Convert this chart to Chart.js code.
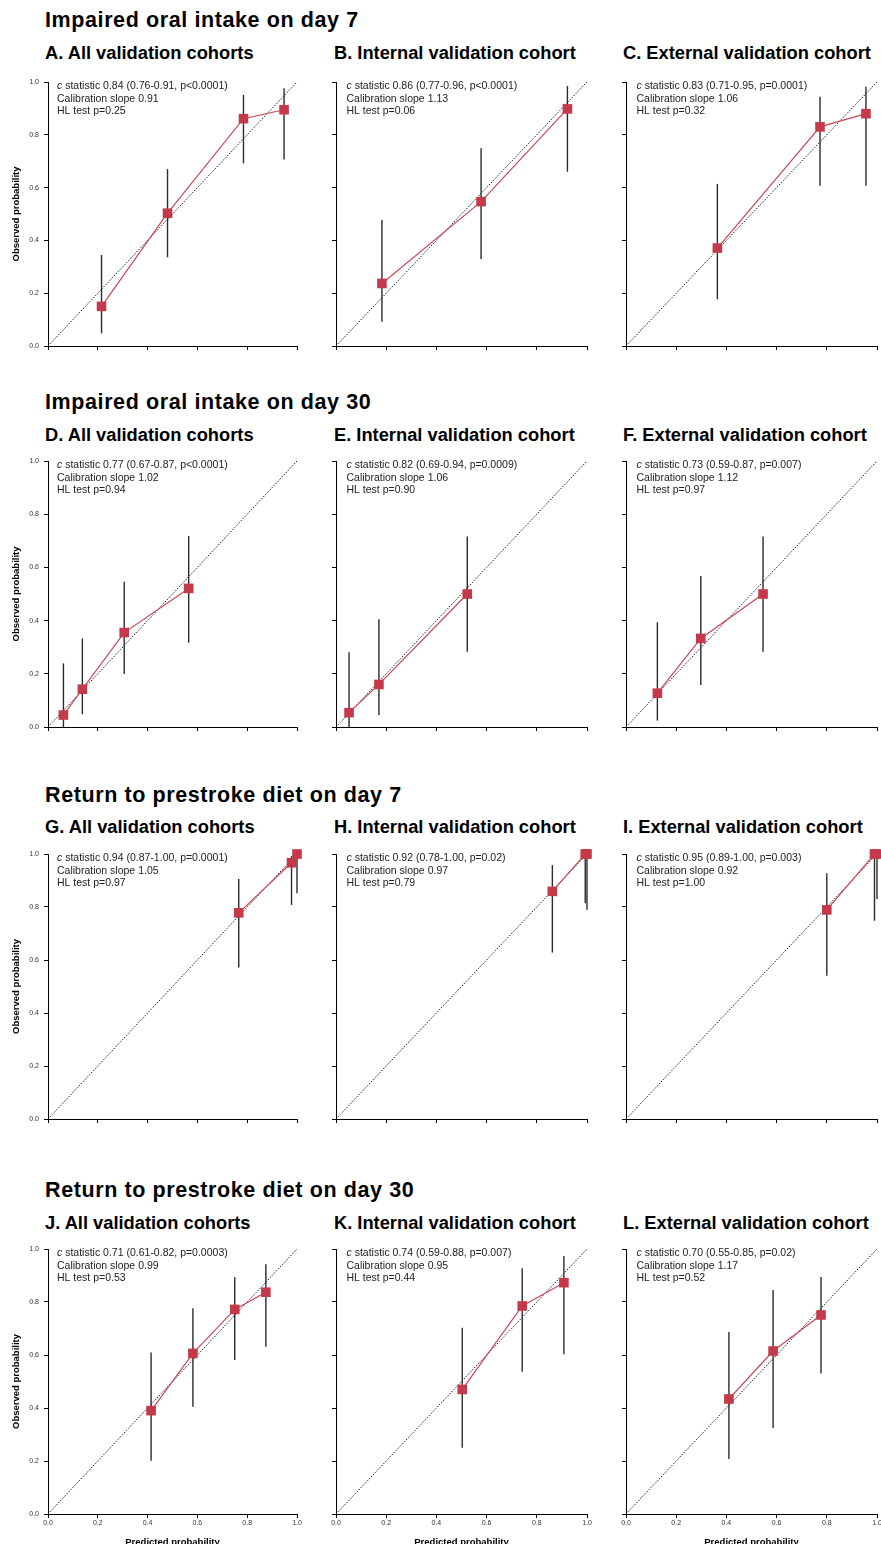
<!DOCTYPE html>
<html><head><meta charset="utf-8">
<script src="https://cdn.jsdelivr.net/npm/chart.js@4/dist/chart.umd.min.js"></script>
<style>
html,body{margin:0;padding:0;width:881px;height:1544px;overflow:hidden;background:#fff;}
.t{position:absolute;font-family:"Liberation Sans",Arial,sans-serif;font-weight:bold;color:#000;white-space:nowrap;line-height:1;}
.h1{font-size:21.5px;letter-spacing:0.6px;}
.h2{font-size:18.3px;letter-spacing:0px;}
canvas{position:absolute;}
</style></head><body>
<script>
// ---------- DATA ----------
const rowTitles = ["Impaired oral intake on day 7","Impaired oral intake on day 30","Return to prestroke diet on day 7","Return to prestroke diet on day 30"];
const panelTitles = ["A. All validation cohorts","B. Internal validation cohort","C. External validation cohort",
  "D. All validation cohorts","E. Internal validation cohort","F. External validation cohort",
  "G. All validation cohorts","H. Internal validation cohort","I. External validation cohort",
  "J. All validation cohorts","K. Internal validation cohort","L. External validation cohort"];
const tickValues = [0, 0.2, 0.4, 0.6, 0.8, 1.0];
const tickLabels = ["0.0","0.2","0.4","0.6","0.8","1.0"];
const diagX = [0, 1];
const diagY = [0, 1];
const xAxisTitle = "Predicted probability";
const yAxisTitle = "Observed probability";

// A
const predA = [0.215, 0.48, 0.785, 0.948];
const obsA  = [0.15, 0.503, 0.861, 0.895];
const loA   = [0.048, 0.336, 0.692, 0.706];
const hiA   = [0.345, 0.67, 0.951, 0.976];
const statsA = ["c statistic 0.84 (0.76-0.91, p<0.0001)","Calibration slope 0.91","HL test p=0.25"];
// B
const predB = [0.183, 0.578, 0.922];
const obsB  = [0.237, 0.547, 0.898];
const loB   = [0.092, 0.33, 0.66];
const hiB   = [0.477, 0.749, 0.985];
const statsB = ["c statistic 0.86 (0.77-0.96, p<0.0001)","Calibration slope 1.13","HL test p=0.06"];
// C
const predC = [0.364, 0.773, 0.956];
const obsC  = [0.371, 0.83, 0.88];
const loC   = [0.177, 0.607, 0.607];
const hiC   = [0.614, 0.944, 0.982];
const statsC = ["c statistic 0.83 (0.71-0.95, p=0.0001)","Calibration slope 1.06","HL test p=0.32"];
// D
const predD = [0.062, 0.138, 0.306, 0.565];
const obsD  = [0.045, 0.142, 0.355, 0.521];
const loD   = [0.0, 0.048, 0.199, 0.317];
const hiD   = [0.239, 0.333, 0.546, 0.718];
const statsD = ["c statistic 0.77 (0.67-0.87, p<0.0001)","Calibration slope 1.02","HL test p=0.94"];
// E
const predE = [0.052, 0.171, 0.523];
const obsE  = [0.054, 0.16, 0.5];
const loE   = [0.0, 0.045, 0.283];
const hiE   = [0.281, 0.405, 0.716];
const statsE = ["c statistic 0.82 (0.69-0.94, p=0.0009)","Calibration slope 1.06","HL test p=0.90"];
// F
const predF = [0.125, 0.298, 0.546];
const obsF  = [0.127, 0.333, 0.5];
const loF   = [0.024, 0.158, 0.283];
const hiF   = [0.394, 0.568, 0.716];
const statsF = ["c statistic 0.73 (0.59-0.87, p=0.007)","Calibration slope 1.12","HL test p=0.97"];
// G
const predG = [0.766, 0.978, 1.0];
const obsG  = [0.778, 0.967, 1.0];
const loG   = [0.572, 0.808, 0.852];
const hiG   = [0.906, 0.992, 1.0];
const statsG = ["c statistic 0.94 (0.87-1.00, p=0.0001)","Calibration slope 1.05","HL test p=0.97"];
// H
const predH = [0.862, 0.993, 1.0];
const obsH  = [0.859, 1.0, 1.0];
const loH   = [0.628, 0.814, 0.79];
const hiH   = [0.958, 1.0, 1.0];
const statsH = ["c statistic 0.92 (0.78-1.00, p=0.02)","Calibration slope 0.97","HL test p=0.79"];
// I
const predI = [0.80, 0.99, 1.0];
const obsI  = [0.789, 1.0, 1.0];
const loI   = [0.541, 0.748, 0.83];
const hiI   = [0.927, 1.0, 1.0];
const statsI = ["c statistic 0.95 (0.89-1.00, p=0.003)","Calibration slope 0.92","HL test p=1.00"];
// J
const predJ = [0.414, 0.582, 0.75, 0.875];
const obsJ  = [0.39, 0.606, 0.772, 0.837];
const loJ   = [0.201, 0.405, 0.581, 0.631];
const hiJ   = [0.609, 0.776, 0.893, 0.942];
const statsJ = ["c statistic 0.71 (0.61-0.82, p=0.0003)","Calibration slope 0.99","HL test p=0.53"];
// K
const predK = [0.503, 0.742, 0.908];
const obsK  = [0.47, 0.785, 0.873];
const loK   = [0.25, 0.537, 0.603];
const hiK   = [0.703, 0.927, 0.974];
const statsK = ["c statistic 0.74 (0.59-0.88, p=0.007)","Calibration slope 0.95","HL test p=0.44"];
// L
const predL = [0.41, 0.586, 0.777];
const obsL  = [0.434, 0.615, 0.751];
const loL   = [0.208, 0.325, 0.53];
const hiL   = [0.687, 0.845, 0.894];
const statsL = ["c statistic 0.70 (0.55-0.85, p=0.02)","Calibration slope 1.17","HL test p=0.52"];

const panels = [
  {pred:predA, obs:obsA, lo:loA, hi:hiA, stats:statsA},
  {pred:predB, obs:obsB, lo:loB, hi:hiB, stats:statsB},
  {pred:predC, obs:obsC, lo:loC, hi:hiC, stats:statsC},
  {pred:predD, obs:obsD, lo:loD, hi:hiD, stats:statsD},
  {pred:predE, obs:obsE, lo:loE, hi:hiE, stats:statsE},
  {pred:predF, obs:obsF, lo:loF, hi:hiF, stats:statsF},
  {pred:predG, obs:obsG, lo:loG, hi:hiG, stats:statsG},
  {pred:predH, obs:obsH, lo:loH, hi:hiH, stats:statsH},
  {pred:predI, obs:obsI, lo:loI, hi:hiI, stats:statsI},
  {pred:predJ, obs:obsJ, lo:loJ, hi:hiJ, stats:statsJ},
  {pred:predK, obs:obsK, lo:loK, hi:hiK, stats:statsK},
  {pred:predL, obs:obsL, lo:loL, hi:hiL, stats:statsL}
];

// ---------- LAYOUT ----------
const rowAreaTop = [82, 461, 854, 1249];
const rowAreaBottom = [346, 727, 1119, 1514];
const rowTitleTop = [10, 391.5, 785, 1179.5];
const rowSubTop = [44.3, 425.7, 817.5, 1213.7];
const colCanvasLeft = [0, 300, 590];
const colAxisW = [48, 36, 36];
const colPadR = [13, 23, 23];
const colSubLeft = [45, 334, 623];
const colStatsDx = [9, 10.5, 10.5];
const FONT = '"Liberation Sans", Arial, sans-serif';

function addText(cls, txt, left, top) {
  const d = document.createElement('div');
  d.className = 't ' + cls;
  d.textContent = txt;
  d.style.left = left + 'px';
  d.style.top = top + 'px';
  document.body.appendChild(d);
}

const statsPlugin = {
  id: 'stats',
  afterDatasetsDraw(chart, args, opts) {
    const ctx = chart.ctx, a = chart.chartArea;
    ctx.save();
    ctx.fillStyle = '#222';
    ctx.textBaseline = 'middle';
    ctx.textAlign = 'left';
    opts.lines.forEach((line, i) => {
      let x = a.left + opts.dx;
      const y = a.top + 4.5 + i * 12.5;
      if (i === 0 && line.startsWith('c ')) {
        ctx.font = 'italic 10.5px ' + FONT;
        ctx.fillText('c', x, y);
        x += ctx.measureText('c').width;
        line = line.slice(1);
      }
      ctx.font = '10.5px ' + FONT;
      ctx.fillText(line, x, y);
    });
    ctx.restore();
  }
};

function makeChart(p, row, col) {
  const padT = 12;
  const xh = row === 3 ? 34 : 12;
  const w = 310;
  const h = padT + (rowAreaBottom[row] - rowAreaTop[row]) + xh;
  const c = document.createElement('canvas');
  c.width = w; c.height = h;
  c.style.left = colCanvasLeft[col] + 'px';
  c.style.top = (rowAreaTop[row] - padT) + 'px';
  c.style.width = w + 'px'; c.style.height = h + 'px';
  document.body.appendChild(c);

  const datasets = [];
  datasets.push({
    data: p.pred.map((x, i) => ({x: x, y: p.obs[i]})),
    showLine: true, tension: 0,
    borderColor: '#c94856', borderWidth: 1.2,
    backgroundColor: '#c43a4a', pointBackgroundColor: '#c43a4a',
    pointStyle: 'rect', pointRadius: 6.8, pointBorderWidth: 0,
    order: 0, clip: false
  });
  p.pred.forEach((x, i) => {
    datasets.push({
      data: [{x: x, y: p.lo[i]}, {x: x, y: p.hi[i]}],
      showLine: true, borderColor: '#2b2b2b', borderWidth: 1.4,
      pointRadius: 0, order: 1, clip: false
    });
  });
  datasets.push({
    data: diagX.map((x, i) => ({x: x, y: diagY[i]})),
    showLine: true, borderColor: '#1a1a1a', borderWidth: 1,
    borderDash: [1.5, 1.5], pointRadius: 0, order: 2, clip: false
  });

  const setTicks = s => { s.ticks = tickValues.map(v => ({value: v})); };
  new Chart(c, {
    type: 'scatter',
    data: {datasets},
    plugins: [statsPlugin],
    options: {
      responsive: false, animation: false, devicePixelRatio: 1, events: [],
      layout: {padding: {top: padT, left: 0, right: colPadR[col], bottom: 0}},
      plugins: {legend: {display: false}, tooltip: {enabled: false},
        stats: {lines: p.stats, dx: colStatsDx[col]}},
      scales: {
        x: {
          type: 'linear', min: 0, max: 1,
          afterBuildTicks: setTicks,
          afterFit: s => { s.height = xh; },
          grid: {drawOnChartArea: false, drawTicks: true, tickLength: 4, color: '#000', tickColor: '#000', lineWidth: 1},
          border: {display: true, color: '#000', width: 1},
          ticks: {display: row === 3, autoSkip: false, maxRotation: 0, padding: 1,
            font: {size: 7, family: FONT}, color: '#333',
            callback: (v, i) => tickLabels[i]},
          title: {display: row === 3, text: xAxisTitle, color: '#000',
            font: {size: 9.5, weight: 'bold', family: FONT}, padding: {top: 0, bottom: 0}}
        },
        y: {
          type: 'linear', min: 0, max: 1,
          afterBuildTicks: setTicks,
          afterFit: s => { s.width = colAxisW[col]; },
          grid: {drawOnChartArea: false, drawTicks: true, tickLength: 4, color: '#000', tickColor: '#000', lineWidth: 1},
          border: {display: true, color: '#000', width: 1},
          ticks: {display: col === 0, autoSkip: false, padding: 5,
            font: {size: 7, family: FONT}, color: '#333',
            callback: (v, i) => tickLabels[i]},
          title: {display: col === 0, text: yAxisTitle, color: '#000',
            font: {size: 9.5, weight: 'bold', family: FONT}, padding: {top: 11, bottom: 0}}
        }
      }
    }
  });
}

for (let r = 0; r < 4; r++) {
  addText('h1', rowTitles[r], 45, rowTitleTop[r]);
  for (let cI = 0; cI < 3; cI++) {
    const idx = r * 3 + cI;
    addText('h2', panelTitles[idx], colSubLeft[cI], rowSubTop[r]);
    makeChart(panels[idx], r, cI);
  }
}
</script>
</body></html>
